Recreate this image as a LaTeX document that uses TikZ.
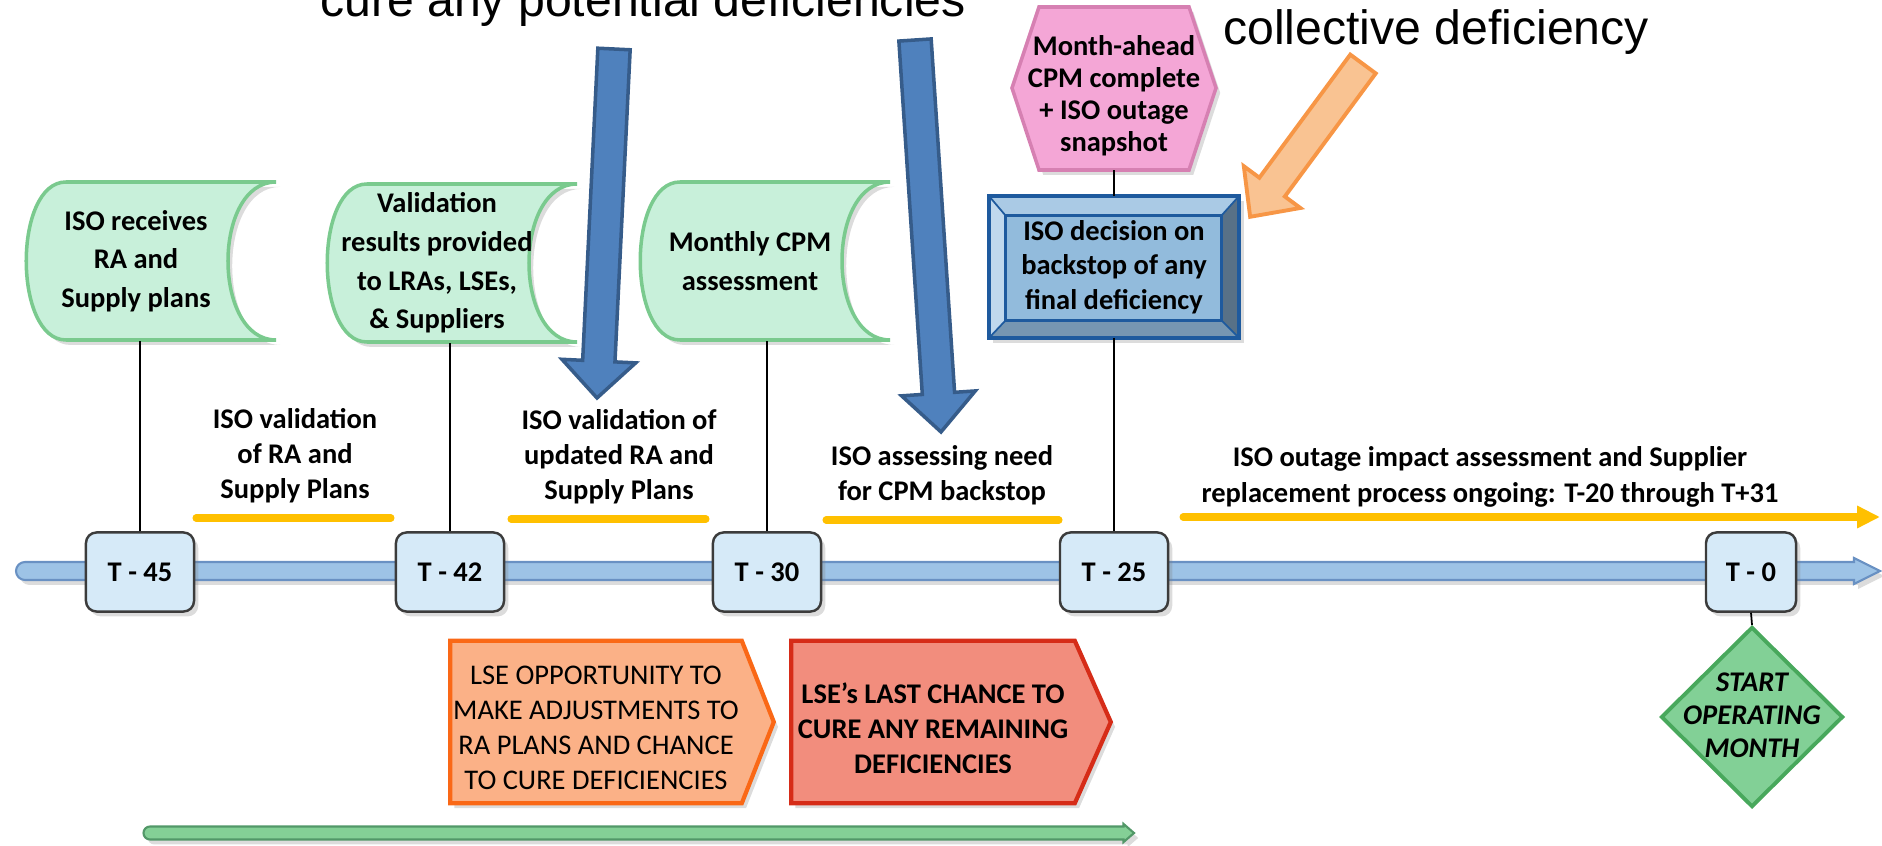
\documentclass[tikz,border=0pt]{standalone}
\usepackage{fontspec}
\setmainfont{Carlito}
\newfontfamily\calloutfont{Liberation Sans}
\usetikzlibrary{shapes, shapes.geometric, arrows.meta, positioning, shadows, calc, backgrounds}

\definecolor{tapefill}{RGB}{200,240,218}
\definecolor{tapeline}{RGB}{122,202,142}
\definecolor{tickfill}{RGB}{214,234,248}
\definecolor{tickline}{RGB}{60,60,60}
\definecolor{barfill}{RGB}{157,195,230}
\definecolor{barline}{RGB}{105,145,195}
\definecolor{hexfill}{RGB}{244,166,214}
\definecolor{hexline}{RGB}{214,128,178}
\definecolor{bevface}{RGB}{146,187,220}
\definecolor{bevtop}{RGB}{170,202,229}
\definecolor{bevleft}{RGB}{192,216,237}
\definecolor{bevright}{RGB}{88,113,135}
\definecolor{bevbottom}{RGB}{118,150,178}
\definecolor{bevline}{RGB}{30,90,158}
\definecolor{gold}{RGB}{255,192,0}
\definecolor{pushfill}{RGB}{79,129,189}
\definecolor{pushline}{RGB}{54,92,138}
\definecolor{notefill}{RGB}{249,195,146}
\definecolor{noteline}{RGB}{247,150,70}
\definecolor{optfill}{RGB}{251,177,135}
\definecolor{optline}{RGB}{250,104,22}
\definecolor{lastfill}{RGB}{242,141,125}
\definecolor{lastline}{RGB}{214,44,24}
\definecolor{startfill}{RGB}{130,208,150}
\definecolor{startline}{RGB}{72,168,92}
\definecolor{curefill}{RGB}{132,208,150}
\definecolor{cureline}{RGB}{82,152,104}

% block arrow from one named coordinate to another
\newcommand{\spanarrow}[7]{%
  \path (#2); \pgfgetlastxy{\sax}{\say}%
  \path (#3); \pgfgetlastxy{\sbx}{\sby}%
  \pgfmathsetmacro{\saang}{atan2((\sby)-(\say),(\sbx)-(\sax))}%
  \pgfmathsetmacro{\salen}{veclen((\sbx)-(\sax),(\sby)-(\say))}%
  \pgfmathsetmacro{\sabase}{\salen-#6}%
  \begin{scope}[shift={(#2)}, rotate=\saang, x=1pt, y=1pt]
    \ifnum#7=1
      \draw[#1] (0,#4) arc[start angle=90, end angle=270, radius=#4pt]
        -- (\sabase,-#4) -- (\sabase,-#5) -- (\salen,0) -- (\sabase,#5) -- (\sabase,#4) -- cycle;
    \else
      \draw[#1] (0,#4) -- (0,-#4) -- (\sabase,-#4) -- (\sabase,-#5) -- (\salen,0)
        -- (\sabase,#5) -- (\sabase,#4) -- cycle;
    \fi
  \end{scope}}

% stored-data outline round a text node
\newcommand{\tapeshape}[1]{%
  \filldraw[tape] ($(#1.center)+(-70,-79)$) -- ($(#1.center)+(140,-79)$)
    .. controls ($(#1.center)+(76,-79)$) and ($(#1.center)+(76,79)$) .. ($(#1.center)+(140,79)$)
    -- ($(#1.center)+(-70,79)$)
    .. controls ($(#1.center)+(-123,79)$) and ($(#1.center)+(-123,-79)$) .. ($(#1.center)+(-70,-79)$)
    -- cycle;}

\begin{document}
\begin{tikzpicture}[
        x=0.01cm, y=-0.01cm,
        font=\fontsize{8.1}{10}\selectfont\bfseries,
        softshadow/.style = {drop shadow={shadow xshift=1.2pt, shadow yshift=-1.4pt, opacity=0.28}},
        tick/.style = {
            draw=tickline,
            fill=tickfill,
            line width=0.7pt,
            rounded corners=3pt,
            minimum width=1.08cm,
            minimum height=0.79cm,
            inner sep=0pt,
            softshadow
        },
        tapetext/.style = {minimum width=2.3cm, minimum height=1.58cm, inner sep=0pt, align=center,
            font=\fontsize{8.1}{11}\selectfont\bfseries},
        tape/.style = {draw=tapeline, fill=tapefill, line width=1pt, softshadow},
        hextext/.style = {minimum width=2.03cm, minimum height=1.47cm, inner sep=0pt, align=center,
            font=\fontsize{8.1}{9.1}\selectfont\bfseries},
        hexshape/.style = {draw=hexline, fill=hexfill, line width=1pt, softshadow},
        bevtext/.style = {minimum width=2.49cm, minimum height=1.41cm, inner sep=0pt, align=center,
            font=\fontsize{8.1}{9.8}\selectfont\bfseries},
        note/.style = {align=center, inner sep=0pt},
        opttext/.style = {minimum width=2.90cm, minimum height=1.61cm, inner sep=0pt, align=center,
            font=\fontsize{8.1}{10}\selectfont\mdseries},
        optshape/.style = {draw=optline, fill=optfill, line width=1.2pt, softshadow},
        lasttext/.style = {minimum width=2.82cm, minimum height=1.61cm, inner sep=0pt, align=center,
            font=\fontsize{8.1}{10}\selectfont\bfseries},
        lastshape/.style = {draw=lastline, fill=lastfill, line width=1.2pt, softshadow},
        startdiamond/.style = {diamond, draw=startline, fill=startfill, line width=1.1pt,
            minimum width=1.82cm, minimum height=1.80cm, inner sep=0pt},
        startlbl/.style = {align=center, inner sep=0pt, font=\fontsize{8.1}{9.4}\selectfont\bfseries\itshape},
        callout/.style = {inner sep=0pt, font=\calloutfont\mdseries\fontsize{13.7}{16}\selectfont},
        stem/.style = {draw=black, line width=0.5pt},
        goldline/.style = {draw=gold, line width=2pt, line cap=round},
        timebar/.style = {draw=barline, fill=barfill, line width=0.6pt, softshadow},
        curebar/.style = {draw=cureline, fill=curefill, line width=0.6pt, softshadow},
        pushstyle/.style = {draw=pushline, fill=pushfill, line width=1pt},
        notestyle/.style = {draw=noteline, fill=notefill, line width=1.1pt}
    ]

    \useasboundingbox (0,0) rectangle (1882,846);
    \clip (0,0) rectangle (1882,846);

    % milestones on the line
    \node[tick] (t45) at (140,572) {T - 45};
    \node[tick] (t42) at (450,572) {T - 42};
    \node[tick] (t30) at (767,572) {T - 30};
    \node[tick] (t25) at (1114,572) {T - 25};
    \node[tick, minimum width=0.9cm] (t0) at (1751,572) {T - 0};

    \node[tapetext] (recv) at (136,261) {ISO receives\\RA and\\Supply plans};
    \node[tapetext] (results) at (437,263) {Validation\\results provided\\to LRAs, LSEs,\\\& Suppliers};
    \node[tapetext] (monthly) at (750,261) {Monthly CPM\\assessment};
    \node[hextext] (monthahead) at (1114,96) {Month-ahead\\CPM complete\\+ ISO outage\\snapshot};
    \node[bevtext] (decide) at (1114,267) {ISO decision on\\backstop of any\\final deficiency};

    \node[note] (val1) at (295,456) {ISO validation\\of RA and\\Supply Plans};
    \node[note] (val2) at (619,457) {ISO validation of\\updated RA and\\Supply Plans};
    \node[note] (need) at (942,475) {ISO assessing need\\for CPM backstop};
    \node[note] (outage) at (1490,477) {ISO outage impact assessment and Supplier\\replacement process ongoing: T-20 through T+31};

    \node[opttext] (lseopt) at (596,728) {LSE OPPORTUNITY TO\\MAKE ADJUSTMENTS TO\\RA PLANS AND CHANCE\\TO CURE DEFICIENCIES};
    \node[lasttext] (lselast) at (933,728) {LSE’s LAST CHANCE TO\\CURE ANY REMAINING\\DEFICIENCIES};
    \node[startdiamond] (startmo) at (1752,717) {};
    \node[startlbl] (startlbl) at (1752,715) {START\\OPERATING\\MONTH};

    \node[callout, anchor=base] (curetxt) at (643,17) {cure any potential deficiencies};
    \node[callout, anchor=base] (colltxt) at (1436,45) {collective deficiency};

    % shapes behind the texts
    \begin{scope}[on background layer]
        \tapeshape{recv}
        \tapeshape{results}
        \tapeshape{monthly}
        \filldraw[hexshape] ($(monthahead.center)+(-75,-89)$) -- ($(monthahead.center)+(75,-89)$)
            -- ($(monthahead.center)+(102,-8)$) -- ($(monthahead.center)+(75,74)$)
            -- ($(monthahead.center)+(-75,74)$) -- ($(monthahead.center)+(-102,-8)$) -- cycle;

        \coordinate (bi1) at ($(decide.north west)+(17,20)$);
        \coordinate (bi2) at ($(decide.north east)+(-18,20)$);
        \coordinate (bi3) at ($(decide.south east)+(-18,-18)$);
        \coordinate (bi4) at ($(decide.south west)+(17,-18)$);
        \fill[bevface, softshadow] (decide.north west) rectangle (decide.south east);
        \fill[bevtop] (decide.north west) -- (decide.north east) -- (bi2) -- (bi1) -- cycle;
        \fill[bevleft] (decide.north west) -- (bi1) -- (bi4) -- (decide.south west) -- cycle;
        \fill[bevright] (decide.north east) -- (decide.south east) -- (bi3) -- (bi2) -- cycle;
        \fill[bevbottom] (decide.south west) -- (bi4) -- (bi3) -- (decide.south east) -- cycle;
        \filldraw[fill=bevface, draw=bevline, line width=0.8pt] (bi1) rectangle (bi3);
        \draw[bevline, line width=0.5pt] (decide.north west) -- (bi1) (decide.north east) -- (bi2)
            (decide.south east) -- (bi3) (decide.south west) -- (bi4);
        \draw[bevline, line width=1.2pt] (decide.north west) rectangle (decide.south east);

        \filldraw[optshape] ($(lseopt.north west)+(0,-6)$) -- ($(lseopt.north east)+(0,-6)$)
            -- ($(lseopt.east)+(32,-6)$) -- ($(lseopt.south east)+(0,-6)$)
            -- ($(lseopt.south west)+(0,-6)$) -- cycle;
        \filldraw[lastshape] ($(lselast.north west)+(0,-6)$) -- ($(lselast.north east)+(0,-6)$)
            -- ($(lselast.east)+(36,-6)$) -- ($(lselast.south east)+(0,-6)$)
            -- ($(lselast.south west)+(0,-6)$) -- cycle;

        \coordinate (tlstart) at (25,571);
        \coordinate (tlend) at (1880,571);
        \spanarrow{timebar}{tlstart}{tlend}{2.56}{3.7}{7.4}{1}
    \end{scope}

    \draw[stem] (t45.north) -- (t45.north |- recv.south);
    \draw[stem] (t42.north) -- (t42.north |- results.south);
    \draw[stem] (t30.north) -- (t30.north |- monthly.south);
    \draw[stem] (t25.north) -- (decide.south);
    \draw[stem] (monthahead.south) -- (decide.north);
    \draw[stem] (t0.south) -- (startmo.north);

    % periods between milestones
    \coordinate (g1a) at (196,518);  \coordinate (g1b) at (391,518);
    \coordinate (g2a) at (511,519);  \coordinate (g2b) at (706,519);
    \coordinate (g3a) at (826,520);  \coordinate (g3b) at (1059,520);
    \coordinate (g4a) at (1183,517); \coordinate (g4b) at (1880,517);
    \draw[goldline] (g1a) -- (g1b);
    \draw[goldline] (g2a) -- (g2b);
    \draw[goldline] (g3a) -- (g3b);
    \draw[goldline, -{Triangle[length=6.5pt, width=6pt]}] (g4a) -- (g4b);

    \coordinate (cure0) at (150,833);
    \coordinate (cure1) at (1134,833);
    \spanarrow{curebar}{cure0}{cure1}{1.85}{2.6}{3}{1}

    % pointers
    \coordinate (pushAtail) at (614,49);  \coordinate (pushAtip) at (597,398);
    \coordinate (pushBtail) at (915,40);  \coordinate (pushBtip) at (941,432);
    \coordinate (notetail) at (1363,64);  \coordinate (notetip) at (1250,217);
    \spanarrow{pushstyle}{pushAtail}{pushAtip}{4.6}{10.5}{10.5}{0}
    \spanarrow{pushstyle}{pushBtail}{pushBtip}{4.6}{10.5}{11}{0}
    \spanarrow{notestyle}{notetail}{notetip}{4.5}{10}{10.5}{0}

\end{tikzpicture}
\end{document}
